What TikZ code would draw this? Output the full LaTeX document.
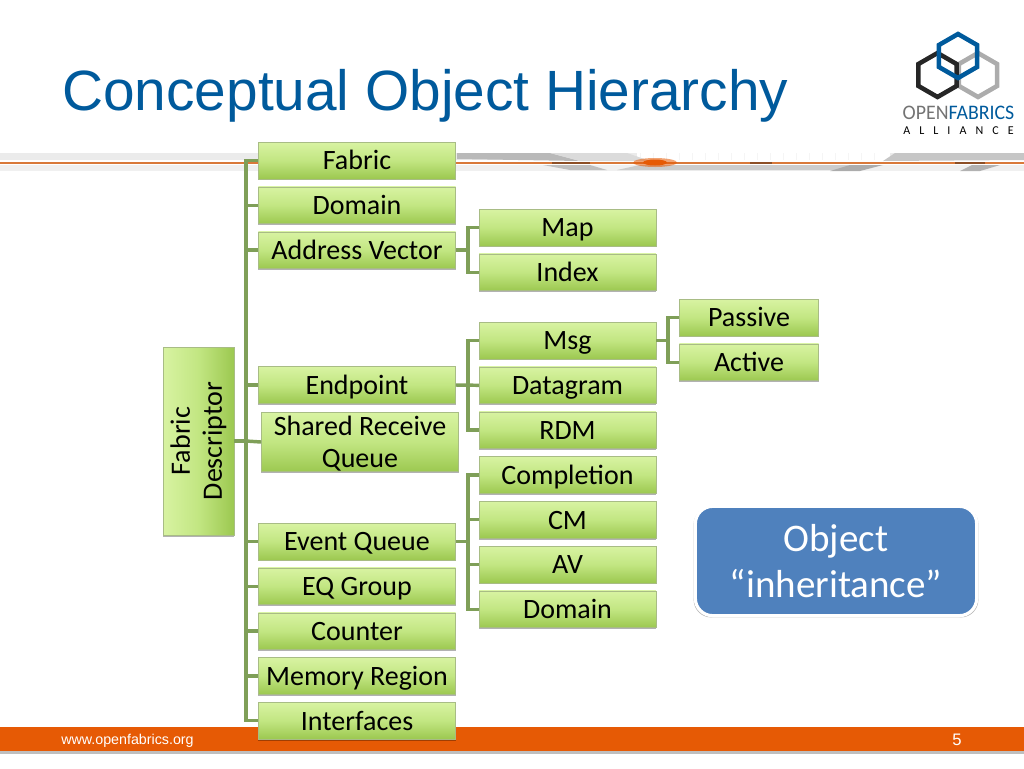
\documentclass[tikz,border=0pt]{standalone}
\usepackage{fontspec}
\setmainfont{Carlito}
\newfontfamily\arialfont{Liberation Sans}
\usetikzlibrary{positioning, shapes.geometric, shadows, calc}
\definecolor{boxtop}{HTML}{D8F3A2}
\definecolor{boxmid}{HTML}{C2E682}
\definecolor{boxbottom}{HTML}{9CC850}
\definecolor{boxline}{HTML}{A8BC85}
\definecolor{linkgreen}{HTML}{7F9F58}
\definecolor{titleblue}{HTML}{005A9C}
\definecolor{noteblue}{HTML}{4F81BD}
\definecolor{footerorange}{HTML}{E65A05}
\definecolor{bandline}{HTML}{D9793A}

\begin{document}
\begin{tikzpicture}[
    x=0.75pt, y=-0.75pt,
    node distance=5.7pt and 17.25pt,
    item/.style={rectangle, draw=boxline, top color=boxtop, bottom color=boxbottom, middle color=boxmid, inner sep=0pt,
        align=center, font=\fontsize{21}{24}\selectfont,
        drop shadow={shadow xshift=0pt, shadow yshift=-1.2pt, opacity=.3, fill=black}},
    oneline/.style={item, minimum height=27.5pt, text height=16pt, text depth=2pt},
    wide/.style={oneline, minimum width=148pt},
    mid/.style={oneline, minimum width=132.5pt},
    narrow/.style={oneline, minimum width=104.5pt},
    link/.style={draw=linkgreen, line width=2.6pt},
    hexa/.style={regular polygon, regular polygon sides=6, shape border rotate=30, minimum size=33pt, inner sep=0pt, line width=3.4pt}
]
    \useasboundingbox (0,0) rectangle (1024,768);

    % Header band
    \fill[gray!16] (0,153) rectangle (1024,160);
    \fill[gray!12] (0,165) rectangle (1024,171);
    \fill[white] (637,153) rectangle (890,160);
    \foreach \x in {640,653,...,885}
        \draw[gray!8, line width=.5pt] (\x,153) -- (\x,160);
    \fill[gray!55] (457,153) -- (550,153) -- (580,161) -- (457,159) -- cycle;
    \fill[gray!28] (550,153) -- (627,153) -- (650,161) -- (580,161) -- cycle;
    \fill[gray!50] (543,165) -- (590,165) -- (607,170) -- (570,170) -- cycle;
    \fill[gray!40] (617,170) -- (640,165) -- (850,165) -- (840,170) -- cycle;
    \fill[gray!65] (850,165) -- (883,165) -- (860,171) -- (830,171) -- cycle;
    \fill[gray!45] (883,161) -- (895,153) -- (1024,153) -- (1024,160) -- cycle;
    \fill[gray!60] (972,165) -- (1000,165) -- (980,171) -- (960,171) -- cycle;
    \fill[bandline] (0,161.5) rectangle (1024,163.5);
    \foreach \a/\b in {552/590, 750/772, 955/985}
        \fill[black!35!bandline] (\a,161.5) rectangle (\b,163.5);
    \fill[footerorange, opacity=.55] (655,162.5) ellipse (22 and 4.5);
    \fill[footerorange] (655,162.5) ellipse (12 and 3);

    % Footer
    \fill[footerorange] (0,727) rectangle (1024,751);
    \fill[gray!50] (0,751) rectangle (1024,754);
    \node[text=white, font=\arialfont\fontsize{10.7}{12}\selectfont, anchor=west, inner sep=0pt] (site) at (61,741) {www.openfabrics.org};
    \node[text=white, font=\arialfont\fontsize{12.5}{14}\selectfont] (pagenum) at (957,740) {5};

    % Title
    \node[text=titleblue, font=\arialfont\fontsize{42.6}{50}\selectfont, anchor=west, inner sep=0pt] (title) at (62,96) {Conceptual Object Hierarchy};

    % Logo
    \node[hexa, draw=gray!65] (hexgray) at (978,75) {};
    \node[hexa, draw=black!85] (hexblack) at (937.5,75) {};
    \node[hexa, draw=titleblue] (hexblue) at (958,56) {};
    \node[anchor=center, inner sep=0pt, font=\fontsize{15.5}{16}\selectfont] (logoname) at (958.5,112.5) {\scalebox{.96}[1]{\color{gray!90!black}OPEN\color{titleblue}FABRICS}};
    \node[anchor=center, inner sep=0pt, font=\fontsize{9}{9}\selectfont] (logoally) at (958.5,130.5) {A\hspace{6.8pt}L\hspace{6.8pt}L\hspace{6.8pt}I\hspace{6.8pt}A\hspace{6.8pt}N\hspace{6.8pt}C\hspace{6.8pt}E};

    % Root
    \node[item, minimum width=141pt, minimum height=53pt, rotate=90, shading angle=90] (descriptor) at (198.5,441) {Fabric\\Descriptor};
    \coordinate (trunk) at (246,441);

    % First column
    \node[wide] (fabric) at (357,160.5) {Fabric};
    \node[wide] (domain) [below=of fabric] {Domain};
    \node[wide] (address) [below=of domain] {Address Vector};
    \node[wide] (endpoint) at (357,385) {Endpoint};
    \node[item, minimum width=148pt, minimum height=44.5pt, text height=40.5pt, font=\fontsize{21}{23.5}\selectfont] (srq) at (360,442) {Shared Receive\\Queue};
    \node[wide] (eventq) at (357,541.5) {Event Queue};
    \node[wide] (eqgroup) [below=of eventq] {EQ Group};
    \node[wide] (counter) [below=of eqgroup] {Counter};
    \node[wide] (memreg) [below=of counter] {Memory Region};
    \node[wide] (interfaces) [below=of memreg] {Interfaces};

    % Second column
    \node[mid] (map) at (567.5,227.5) {Map};
    \node[mid] (index) [below=of map] {Index};
    \node[mid] (msg) at (567.5,340.5) {Msg};
    \node[mid] (datagram) [below=of msg] {Datagram};
    \node[mid] (rdm) [below=of datagram] {RDM};
    \node[mid] (completion) [below=of rdm] {Completion};
    \node[mid] (cm) [below=of completion] {CM};
    \node[mid] (av) [below=of cm] {AV};
    \node[mid] (domainc) [below=of av] {Domain};

    % Third column
    \node[narrow] (passive) at (749,317.5) {Passive};
    \node[narrow] (active) [below=of passive] {Active};

    % Note
    \node[rectangle, rounded corners=13pt, draw=white, line width=2.4pt, fill=noteblue, text=white, minimum width=211pt, minimum height=82pt,
        align=center, font=\fontsize{29.3}{35}\selectfont, drop shadow={shadow xshift=0pt, shadow yshift=-.8pt, shadow scale=1.012, opacity=.3, fill=black}] (note) at (836,561) {Object\\“inheritance”};

    % Connectors
    \draw[link] (descriptor.south) -- (trunk);
    \foreach \n in {fabric, domain, address, endpoint, eventq, eqgroup, counter, memreg, interfaces}
        \draw[link] (trunk) |- (\n.west);
    \draw[link] (trunk) -- (srq.west);
    \coordinate (forkA) at ($(address.east)+(9pt,0)$);
    \draw[link] (address.east) -- (forkA);
    \foreach \n in {map, index}
        \draw[link] (forkA) |- (\n.west);
    \coordinate (forkB) at ($(endpoint.east)+(9pt,0)$);
    \draw[link] (endpoint.east) -- (datagram.west);
    \foreach \n in {msg, rdm}
        \draw[link] (forkB) |- (\n.west);
    \coordinate (forkC) at ($(eventq.east)+(9pt,0)$);
    \draw[link] (eventq.east) -- (forkC);
    \foreach \n in {completion, cm, av, domainc}
        \draw[link] (forkC) |- (\n.west);
    \coordinate (forkD) at ($(msg.east)+(9pt,0)$);
    \draw[link] (msg.east) -- (forkD);
    \foreach \n in {passive, active}
        \draw[link] (forkD) |- (\n.west);
\end{tikzpicture}
\end{document}
